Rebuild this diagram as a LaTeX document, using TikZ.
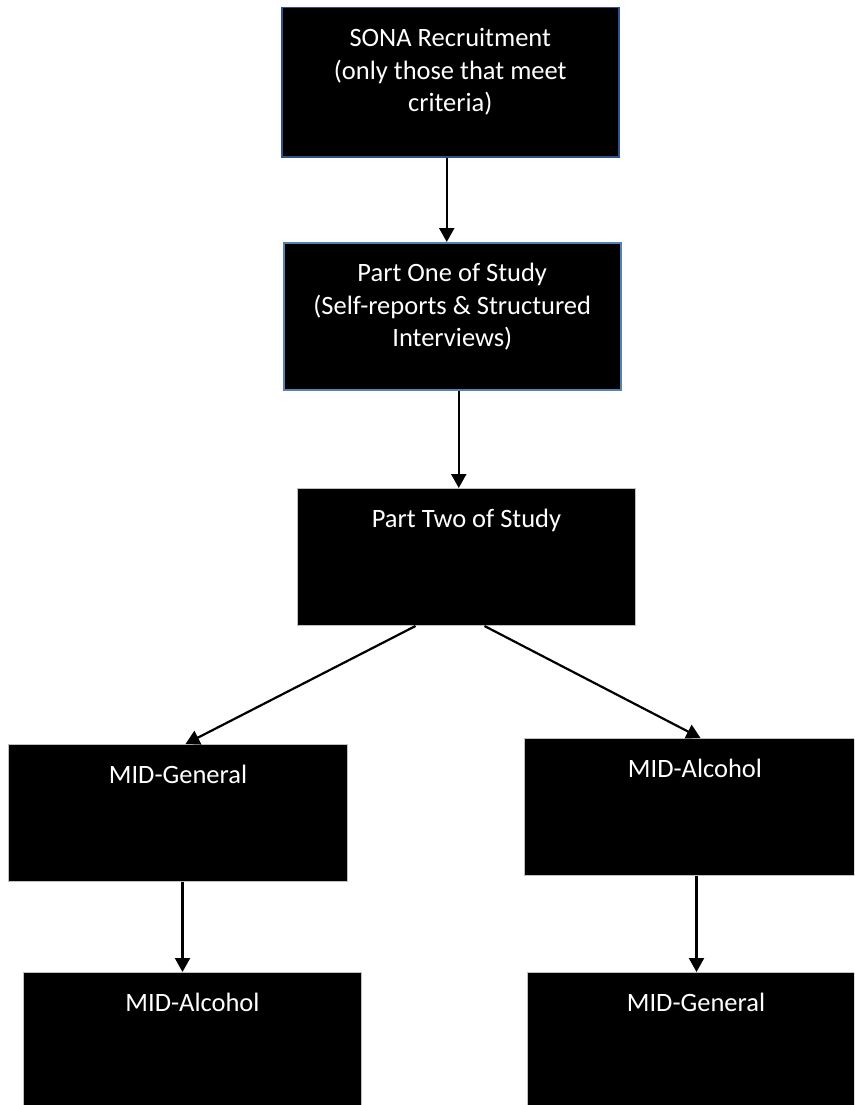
\documentclass[tikz,border=0pt]{standalone}
\usepackage{fontspec}
\setmainfont{Carlito}
\usetikzlibrary{positioning,
	arrows.meta,
	calc}
\definecolor{sonablue}{RGB}{47,82,143}
\definecolor{partblue}{RGB}{84,130,180}
\definecolor{stagegray}{RGB}{191,191,191}
\tikzset{
	stage/.style={fill=black, draw=stagegray, line width=1pt, anchor=north west, inner sep=0pt, minimum height=137pt},
	toptext/.style={text=white, align=center, inner sep=0pt, anchor=north, yshift=-16.6pt, font=\fontsize{26.5}{32.5}\selectfont},
	flow/.style={-{Triangle[width=15pt,length=14pt]}, line width=2.2pt}
}

\begin{document}
\begin{tikzpicture}[x=1pt,y=-1pt]
	\useasboundingbox (0,0) rectangle (854,1105);
	\clip (0,0) rectangle (854,1105);
	\node[stage, draw=sonablue, line width=1.5pt, minimum width=337pt, minimum height=149pt,
		label={[toptext]north:\strut SONA Recruitment\\(only those that meet\\criteria)}] (sona) at (281,7) {};
	\node[stage, draw=partblue, line width=1.5pt, minimum width=337pt, minimum height=147pt,
		label={[toptext]north:\strut Part One of Study\\(Self-reports \& Structured\\Interviews)}] (partone) at (283,242) {};
	\node[stage, minimum width=338pt, label={[toptext]north:\strut Part Two of Study}] (parttwo) at (297,488) {};
	\node[stage, minimum width=339pt, label={[toptext]north:\strut MID-General}] (general) at (8,744) {};
	\node[stage, minimum width=341pt, label={[toptext]north:\strut MID-Alcohol}] (alcohol) at (524,738) {};
	\node[stage, minimum width=338pt, minimum height=140pt, label={[toptext]north:\strut MID-Alcohol}] (alcoholtwo) at (23,972) {};
	\node[stage, minimum width=337pt, minimum height=140pt, label={[toptext]north:\strut MID-General}] (generaltwo) at (527,972) {};

	\draw[flow] ([xshift=-3.5pt]sona.south) -- ([xshift=-3.5pt]sona.south |- partone.north);
	\draw[flow] ([xshift=6.5pt]partone.south) -- ([xshift=6.5pt]partone.south |- parttwo.north);
	\draw[flow] ([xshift=-51pt]parttwo.south) -- ([xshift=7.5pt]general.north);
	\draw[flow] ([xshift=18pt]parttwo.south) -- ([xshift=5.5pt]alcohol.north);
	\draw[flow] ([xshift=4.5pt]general.south) -- ([xshift=4.5pt]general.south |- alcoholtwo.north);
	\draw[flow] ([xshift=1.5pt]alcohol.south) -- ([xshift=1.5pt]alcohol.south |- generaltwo.north);
\end{tikzpicture}
\end{document}
